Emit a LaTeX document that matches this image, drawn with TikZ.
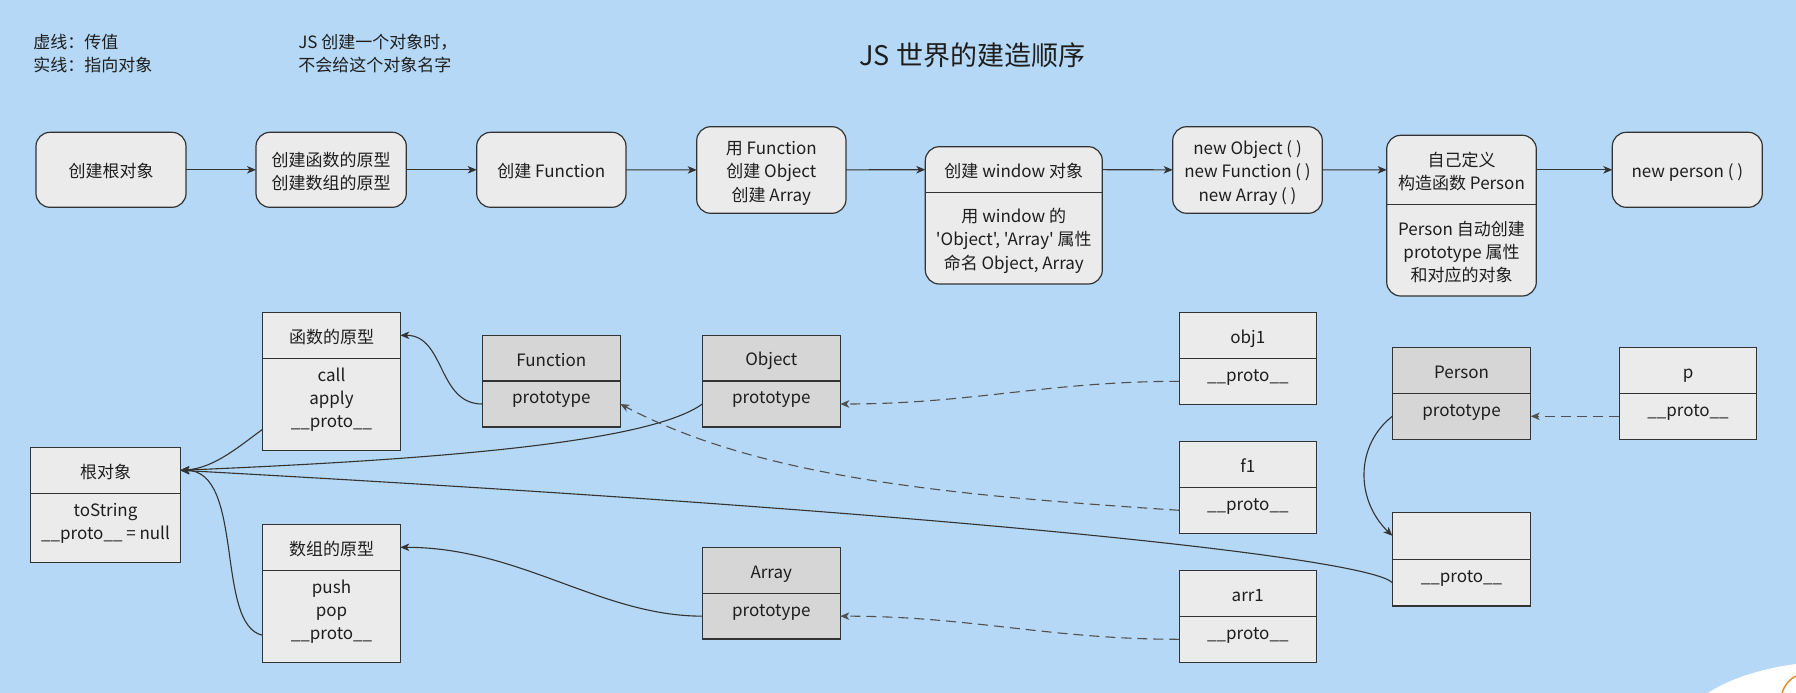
\documentclass[tikz,border=0pt]{standalone}
\usepackage{fontspec}
\setmainfont{Noto Sans CJK SC}[Ligatures=TeXOff]
\usetikzlibrary{arrows.meta,calc}
\definecolor{bgc}{RGB}{180,216,245}
\definecolor{lite}{RGB}{235,235,235}
\definecolor{dark}{RGB}{214,214,214}
\definecolor{linec}{RGB}{51,51,51}
\definecolor{dashc}{RGB}{80,80,80}
\definecolor{txtc}{RGB}{30,30,30}
\definecolor{orangec}{RGB}{230,140,40}
\newcommand\tstrut{\vrule width 0pt height 19.8pt depth 3.5pt\relax}
\tikzset{
  base/.style={font=\fontsize{17}{23.3}\selectfont, text=txtc, align=center, inner sep=0pt, outer sep=0pt,
    execute at begin node=\tstrut, execute at end node=\tstrut},
  rbox/.style={base, draw=linec, line width=1.2pt, fill=lite, rounded corners=14pt, anchor=north west},
  lbox/.style={base, draw=linec, line width=1.2pt, anchor=north west},
  conn/.style={draw=linec, line width=1.1pt, -{Stealth[length=9pt,width=7.5pt,inset=2.5pt]}},
  dconn/.style={conn, draw=dashc, dash pattern=on 10pt off 6pt},
}
% name, x, y, width, header h, body h, fill, header text, body text
\newcommand\mkbox[9]{%
  \node[lbox, fill=#7, minimum width=#4pt, minimum height=#5pt] (#1H) at (#2,#3) {#8};
  \node[lbox, fill=#7, minimum width=#4pt, minimum height=#6pt] (#1B) at (#1H.south west) {};
  \node[base, anchor=north] (#1T) at ([yshift=-3pt]#1B.north) {\tstrut #9};
}
\begin{document}
\begin{tikzpicture}[x=1pt,y=-1pt]
\useasboundingbox (0,0) rectangle (1796,693);
\fill[bgc] (0,0) rectangle (1796,693);

% texts
\node[base, align=left, anchor=west] (legend) at (33.3,51.7) {\tstrut 虚线：传值\\实线：指向对象};
\node[base, align=left, anchor=west] (note) at (298.3,51.7) {\tstrut JS 创建一个对象时，\\不会给这个对象名字};
\node[font=\fontsize{27}{32}\selectfont, text=txtc, inner sep=0pt, anchor=west] (title) at (859.3,55) {JS 世界的建造顺序};

% top row
\node[rbox, minimum width=150pt, minimum height=75pt] (t1) at (36,132.3) {创建根对象};
\node[rbox, minimum width=150.3pt, minimum height=75pt] (t2) at (256,132.3) {\tstrut 创建函数的原型\\创建数组的原型};
\node[rbox, minimum width=149.3pt, minimum height=75pt] (t3) at (476.7,132.3) {创建 Function};
\node[rbox, minimum width=149.3pt, minimum height=86.6pt] (t4) at (696.7,126.7) {\tstrut 用 Function\\创建 Object\\创建 Array};
\node[rbox, minimum width=177pt, minimum height=137.3pt] (t5) at (925.3,146.7) {};
\node[base, minimum width=177pt, minimum height=45.6pt, anchor=north west] (t5h) at (925.3,146.7) {创建 window 对象};
\draw[linec, line width=1.2pt] (t5h.south west) -- (t5h.south east);
\node[base] (t5b) at ($(t5h.south)!0.5!(t5.south)$) {\tstrut 用 window 的\\'Object', 'Array' 属性\\命名 Object, Array};
\node[rbox, minimum width=149.6pt, minimum height=86.6pt] (t6) at (1172.7,126.7) {\tstrut new Object ( )\\new Function ( )\\new Array ( )};
\node[rbox, minimum width=149.6pt, minimum height=160.7pt] (t7) at (1386.7,135.3) {};
\node[base, minimum width=149.6pt, minimum height=69pt, anchor=north west] (t7h) at (1386.7,135.3) {\tstrut 自己定义\\构造函数 Person};
\draw[linec, line width=1.2pt] (t7h.south west) -- (t7h.south east);
\node[base] (t7b) at ($(t7h.south)!0.5!(t7.south)$) {\tstrut Person 自动创建\\prototype 属性\\和对应的对象};
\node[rbox, minimum width=150pt, minimum height=75pt] (t8) at (1612.3,132.3) {new person ( )};

\draw[conn] (t1) -- (t2);
\draw[conn] (t2) -- (t3);
\draw[conn] (t3) -- (t4);
\draw[conn] (t4) -- (t5h);
\draw[conn] (t5h) -- (t6);
\draw[conn] (t6) -- (t7h);
\draw[conn] (t7h) -- (t8);

% object boxes
\mkbox{root}{30.7}{447.3}{149.6}{46}{69}{lite}{根对象}{toString\\\_\_proto\_\_ = null}
\mkbox{fnp}{262.7}{312.3}{137.6}{46}{92}{lite}{函数的原型}{call\\apply\\\_\_proto\_\_}
\mkbox{arp}{262.7}{524.3}{137.6}{46}{92}{lite}{数组的原型}{push\\pop\\\_\_proto\_\_}
\mkbox{Fun}{482.3}{335.3}{138}{45.7}{46}{dark}{Function}{prototype}
\mkbox{Obj}{702.3}{335.3}{138}{45.7}{46}{dark}{Object}{prototype}
\mkbox{Arr}{702.3}{547.3}{138}{46}{45.7}{dark}{Array}{prototype}
\mkbox{objA}{1179.3}{312.3}{137}{46}{46}{lite}{obj1}{\_\_proto\_\_}
\mkbox{fA}{1179.3}{441.7}{137}{45.6}{46}{lite}{f1}{\_\_proto\_\_}
\mkbox{arrA}{1179.3}{570.7}{137}{45.6}{46}{lite}{arr1}{\_\_proto\_\_}
\mkbox{Per}{1392.3}{347.3}{138.4}{46}{46}{dark}{Person}{prototype}
\mkbox{pp}{1619.3}{347.3}{137.4}{46}{46}{lite}{p}{\_\_proto\_\_}
\mkbox{anon}{1392.3}{512.3}{138.4}{47}{46.7}{lite}{}{\_\_proto\_\_}

% connectors
\draw[conn] (FunB.west) .. controls +(-45,0) and +(45,0) .. (fnpH.east);
\draw[conn] (ArrB.west) .. controls +(-102,0) and +(120,0) .. (arpH.east);
\draw[conn] (ObjB.west) .. controls +(-55,40) and +(240,-10) .. (rootH.east);
\draw[conn] (anonB.west) .. controls +(-22,-23) and +(820,45) .. (rootH.east);
\draw[conn] ([yshift=-25pt]fnpB.west) .. controls +(-20,14) and +(35,-2) .. (rootH.east);
\draw[conn] ([yshift=-19pt]arpB.west) .. controls +(-48,-10) and +(65,0) .. (rootH.east);
\draw[dconn] (objAB.west) .. controls +(-130,0) and +(130,0) .. (ObjB.east);
\draw[dconn] (fAB.west) .. controls +(-229,-15) and +(140,74) .. (FunB.east);
\draw[dconn] (arrAB.west) .. controls +(-130,0) and +(130,0) .. (ArrB.east);
\draw[dconn] (ppB) -- (PerB);
\draw[conn] (PerB.west) .. controls +(-37,29) and +(-37,-36) .. (anonH.west);

% corner fragment
\fill[white] (1708,693) .. controls (1730,678) and (1765,668) .. (1796,664) -- (1796,693) -- cycle;
\draw[orangec, line width=1.5pt] (1782,693) .. controls (1785,684) and (1790,679) .. (1796,676);
\end{tikzpicture}
\end{document}
